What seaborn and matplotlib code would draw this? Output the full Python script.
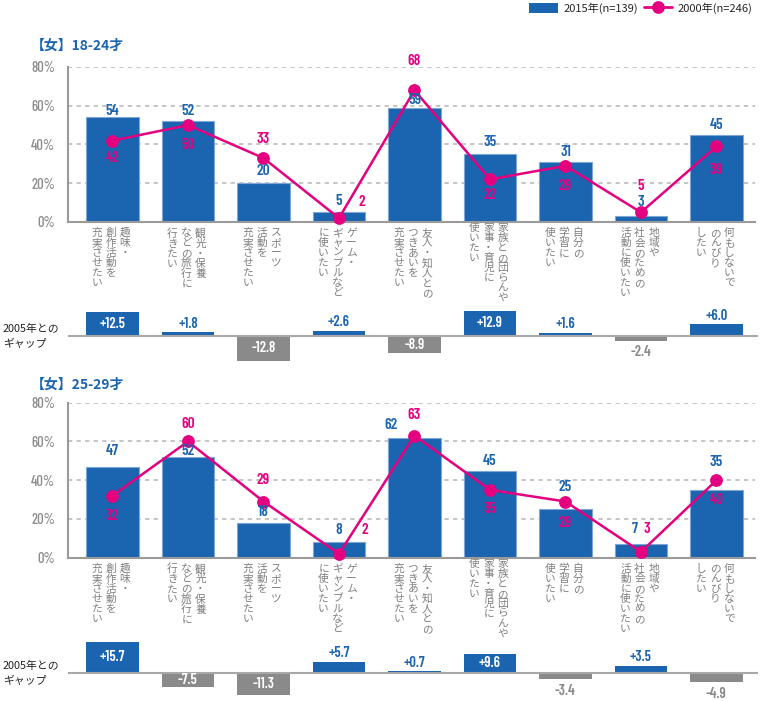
import numpy as np
import pandas as pd
import matplotlib
matplotlib.use("Agg")
import matplotlib.pyplot as plt
import seaborn as sns
from matplotlib.patches import Patch
from matplotlib.lines import Line2D

# ---------------- data ----------------
label_columns = [
    ["趣味・", "創作活動を", "充実させたい"],
    ["観光・保養", "などの旅行に", "行きたい"],
    ["スポーツ", "活動を", "充実させたい"],
    ["ゲーム・", "ギャンブルなど", "に使いたい"],
    ["友人・知人との", "つきあいを", "充実させたい"],
    ["家族との団らんや", "家事・育児に", "使いたい"],
    ["自分の", "学習に", "使いたい"],
    ["地域や", "社会のための", "活動に使いたい"],
    ["何もしないで", "のんびり", "したい"],
]
categories = ["".join(c) for c in label_columns]

panel_titles = ["【女】18-24才", "【女】25-29才"]
values_2015_a = [54, 52, 20, 5, 59, 35, 31, 3, 45]
values_2000_a = [42, 50, 33, 2, 68, 22, 29, 5, 39]
gap_2005_a = [12.5, 1.8, -12.8, 2.6, -8.9, 12.9, 1.6, -2.4, 6.0]
values_2015_b = [47, 52, 18, 8, 62, 45, 25, 7, 35]
values_2000_b = [32, 60, 29, 2, 63, 35, 29, 3, 40]
gap_2005_b = [15.7, -7.5, -11.3, 5.7, 0.7, 9.6, -3.4, 3.5, -4.9]
y_ticks = [0, 20, 40, 60, 80]
legend_labels = ["2015年(n=139)", "2000年(n=246)"]
gap_title = "2005年との\nギャップ"

# ---------------- style ----------------
BLUE = "#1b64b0"
PINK = "#e4007f"
GRAY = "#8a8a8a"
TXT_GRAY = "#7f7f7f"
NUM_FONT = ["Barlow Condensed", "Roboto Condensed", "DejaVu Sans"]

# label offsets in pixels (dx, dy) relative to bar top / point
bar_off_a = [(0, 6), (0, 10), (0, 12), (0, 11), (0, 8), (0, 12), (0, 10), (0, 14), (0, 10)]
line_off_a = [(0, -17), (0, -20), (0, 19), (23, 16), (0, 29), (0, -16), (0, -20), (0, 26), (0, -24)]
bar_off_b = [(0, 16), (0, 6), (0, 11), (0, 12), (-23, 13), (0, 10), (0, 22), (-6, 15), (0, 28)]
line_off_b = [(0, -20), (0, 17), (0, 22), (26, 24), (0, 21), (0, -19), (0, -21), (6, 23), (0, -20)]
col_dx = [12.5, -1.5, -15.5]
label_dy = [0, 0, 0, 0, 0, 5, 0, 0, 0]

sns.set_style("white")
plt.rcParams["font.family"] = ["Noto Sans CJK JP", "DejaVu Sans"]

W, H = 760, 701
fig = plt.figure(figsize=(W / 100, H / 100), dpi=100)


def px_axes(l, t, r, b):
    return fig.add_axes([l / W, 1 - b / H, (r - l) / W, (b - t) / H])


def draw_main(ax, v15, v00, bar_off, line_off):
    df = pd.DataFrame({"cat": categories, "v": v15})
    sns.barplot(data=df, x="cat", y="v", ax=ax, color=BLUE, saturation=1,
                width=0.7, edgecolor="#7ea6d6", linewidth=0.8, zorder=2)
    x = np.arange(len(categories))
    sns.lineplot(x=x, y=v00, ax=ax, color=PINK, linewidth=1.8, marker="o",
                 markersize=9.2, markeredgewidth=0, zorder=4, clip_on=False)
    ax.set_xlim(-0.589, 8.51)
    ax.set_ylim(0, 80)
    ax.set_yticks(y_ticks)
    ax.set_yticklabels([f"{t}%" for t in y_ticks], family=NUM_FONT,
                       fontsize=10.5, color="#8c8c8c", fontweight="medium")
    ax.tick_params(axis="y", length=0, pad=9.4)
    ax.set_xticks([])
    ax.set_xlabel("")
    ax.set_ylabel("")
    for yv in y_ticks[1:]:
        ax.axhline(yv, color="#b5b5b5", lw=1.1, dashes=(2.8, 2.8), zorder=1)
    for s in ["top", "right"]:
        ax.spines[s].set_visible(False)
    for s in ["left", "bottom"]:
        ax.spines[s].set_color("#9a9a9a")
        ax.spines[s].set_linewidth(1.5)
        ax.spines[s].set_zorder(3)
    ax.set_facecolor("none")
    for i in range(len(categories)):
        ax.annotate(f"{v15[i]}", xy=(i, v15[i]), xytext=bar_off[i],
                    textcoords="offset pixels", ha="center", va="center",
                    family=NUM_FONT, fontsize=11, fontweight="semibold",
                    color=BLUE, zorder=6, annotation_clip=False)
        ax.annotate(f"{v00[i]}", xy=(i, v00[i]), xytext=line_off[i],
                    textcoords="offset pixels", ha="center", va="center",
                    family=NUM_FONT, fontsize=11, fontweight="semibold",
                    color=PINK, zorder=6, annotation_clip=False)
    # vertical category labels (columns read right to left)
    for i, cols in enumerate(label_columns):
        for k, col in enumerate(cols):
            ax.annotate("\n".join(col), xy=(i, 0), xytext=(col_dx[k], -6 + label_dy[i]),
                        textcoords="offset pixels", ha="center", va="top",
                        fontsize=7.7, color=TXT_GRAY, linespacing=1.0,
                        annotation_clip=False)


def draw_gap(ax, gaps, ylim):
    df = pd.DataFrame({"cat": categories, "g": gaps})
    colors = [BLUE if g > 0 else GRAY for g in gaps]
    sns.barplot(data=df, x="cat", y="g", hue="cat", palette=colors, legend=False,
                ax=ax, saturation=1, width=0.7, edgecolor="none", zorder=2)
    ax.axhline(0, color="#a8a8a8", lw=1.5, zorder=3)
    ax.set_xlim(-0.589, 8.55)
    ax.set_ylim(*ylim)
    ax.axis("off")
    for i, g in enumerate(gaps):
        txt = f"{g:+.1f}"
        if abs(g) >= 7:
            ax.annotate(txt, xy=(i, g / 2), ha="center", va="center", color="white",
                        family=NUM_FONT, fontsize=10.5, fontweight="semibold",
                        annotation_clip=False, zorder=5)
        elif g > 0:
            ax.annotate(txt, xy=(i, g), xytext=(0, 8.5), textcoords="offset pixels",
                        ha="center", va="center", color=BLUE, family=NUM_FONT,
                        fontsize=10.5, fontweight="semibold", annotation_clip=False)
        else:
            ax.annotate(txt, xy=(i, g), xytext=(0, -11.5), textcoords="offset pixels",
                        ha="center", va="center", color=GRAY, family=NUM_FONT,
                        fontsize=10.5, fontweight="semibold", annotation_clip=False)


# gap panels first (so main-panel labels sit above them)
gap_a = px_axes(68, 300, 758, 370)
draw_gap(gap_a, gap_2005_a, (-(370 - 336) / 1.95, (336 - 300) / 1.95))
gap_b = px_axes(68, 636, 758, 701)
draw_gap(gap_b, gap_2005_b, (-(701 - 672.7) / 1.95, (672.7 - 636) / 1.95))

ax_a = px_axes(68, 67, 755, 222)
draw_main(ax_a, values_2015_a, values_2000_a, bar_off_a, line_off_a)
ax_b = px_axes(68, 402.7, 755, 557.7)
draw_main(ax_b, values_2015_b, values_2000_b, bar_off_b, line_off_b)

# titles
fig.text(31 / W, 1 - 45.5 / H, panel_titles[0], color=BLUE, fontsize=10,
         fontweight="bold", ha="left", va="center")
fig.text(31 / W, 1 - 385 / H, panel_titles[1], color=BLUE, fontsize=10,
         fontweight="bold", ha="left", va="center")

# gap row titles
fig.text(3 / W, 1 - 336.5 / H, gap_title, color="#222222", fontsize=7.8,
         ha="left", va="center", linespacing=1.5)
fig.text(3 / W, 1 - 673.5 / H, gap_title, color="#222222", fontsize=7.8,
         ha="left", va="center", linespacing=1.5)

# legend
handles = [Patch(facecolor=BLUE, edgecolor="none"),
           Line2D([], [], color=PINK, lw=2, marker="o", markersize=9.2, markeredgewidth=0)]
fig.legend(handles, legend_labels, ncol=2, loc="upper right",
           bbox_to_anchor=(754 / W, 1 - 1 / H), frameon=False, fontsize=8,
           handlelength=2.6, handleheight=1.0, handletextpad=0.5,
           columnspacing=0.5, borderaxespad=0, borderpad=0.1)

fig.savefig("out.png", dpi=100)
